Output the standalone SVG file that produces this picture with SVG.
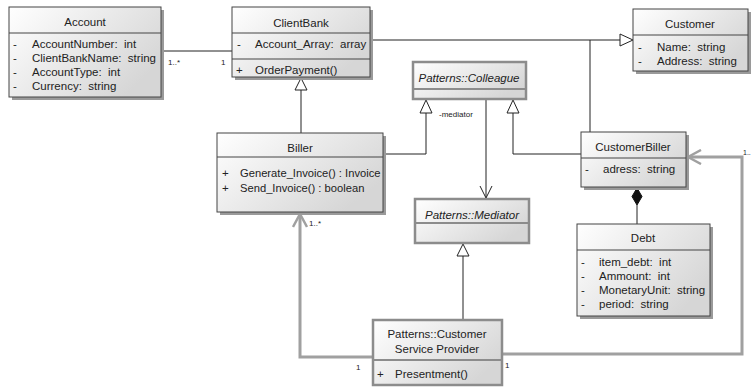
<svg xmlns="http://www.w3.org/2000/svg" width="751" height="387" viewBox="0 0 751 387">
  <defs>
    <linearGradient id="boxFill" x1="0" y1="0" x2="1" y2="0.6">
      <stop offset="0" stop-color="#ffffff"/>
      <stop offset="1" stop-color="#d6d6d6"/>
    </linearGradient>
    <marker id="openArrow" viewBox="0 0 14 14" refX="13" refY="7" markerWidth="14" markerHeight="14" markerUnits="userSpaceOnUse" orient="auto">
      <path d="M1,1 L13,7 L1,13" fill="none" stroke="#222" stroke-width="1"/>
    </marker>
    <marker id="greyArrow" viewBox="0 0 16 16" refX="14" refY="8" markerWidth="16" markerHeight="16" markerUnits="userSpaceOnUse" orient="auto">
      <path d="M1,1 L14,8 L1,15" fill="none" stroke="#a0a0a0" stroke-width="2.5"/>
    </marker>
  </defs>
  <style>
    .box { fill: url(#boxFill); stroke: #444; stroke-width: 1; }
    .shadow { fill: #9a9a9a; }
    .pbox { fill: url(#boxFill); stroke: #8c8c8c; stroke-width: 2.5; }
    .sep { stroke: #444; stroke-width: 1; }
    .psep { stroke: #8c8c8c; stroke-width: 2; }
    text { font-family: "Liberation Sans", Arial, sans-serif; font-size: 11.5px; fill: #222; white-space: pre; }
    .title { text-anchor: middle; }
    .ital { font-style: italic; text-anchor: middle; }
    .lbl { font-size: 8px; }
    .line { fill: none; stroke: #222; stroke-width: 1; }
    .grey { fill: none; stroke: #a0a0a0; stroke-width: 3; }
    .tri { fill: #fff; stroke: #222; stroke-width: 1; }
  </style>

  <!-- connectors -->
  <g id="connectors">
    <!-- Account – ClientBank association -->
    <line class="line" x1="161" y1="51" x2="232" y2="51"/>
    <text class="lbl" x="168" y="65">1..*</text>
    <text class="lbl" x="221" y="65">1</text>
    <!-- ClientBank / CustomerBiller generalize Customer -->
    <polyline class="line" points="370,40 621,40"/>
    <line class="line" x1="590" y1="40" x2="590" y2="132"/>
    <polygon class="tri" points="633,40 620,34 620,46"/>
    <!-- Biller generalizes ClientBank -->
    <line class="line" x1="301" y1="133" x2="301" y2="90"/>
    <polygon class="tri" points="301,78 295,90 307,90"/>
    <!-- Biller / CustomerBiller generalize Colleague -->
    <polyline class="line" points="383,154 426,154 426,113"/>
    <polygon class="tri" points="426,100 420,113 432,113"/>
    <polyline class="line" points="581,154 513,154 513,113"/>
    <polygon class="tri" points="513,100 507,113 519,113"/>
    <!-- Colleague -> Mediator navigable association -->
    <line class="line" x1="486" y1="100" x2="486" y2="198" marker-end="url(#openArrow)"/>
    <text class="lbl" x="439" y="117">-mediator</text>
    <!-- CSP realizes Mediator -->
    <line class="line" x1="463" y1="256" x2="463" y2="320"/>
    <polygon class="tri" points="463,244 457,256 469,256"/>
    <!-- CustomerBiller ◆ Debt composition -->
    <line class="line" x1="637" y1="205" x2="637" y2="224"/>
    <polygon points="637,188 632,196.5 637,205 642,196.5" fill="#111" stroke="#111" stroke-width="1"/>
    <!-- CSP -> Biller -->
    <polyline class="grey" points="373,357 300,357 300,214" marker-end="url(#greyArrow)"/>
    <text class="lbl" x="309" y="226">1..*</text>
    <text class="lbl" x="356" y="370">1</text>
    <!-- CSP -> CustomerBiller -->
    <polyline class="grey" points="502,354 742,354 742,157 688,157" marker-end="url(#greyArrow)"/>
    <text class="lbl" x="505" y="368">1</text>
    <text class="lbl" x="743" y="155" style="font-size:7px">1..</text>
  </g>

  <!-- Account -->
  <g id="account">
    <rect class="shadow" x="12" y="10" width="152" height="90"/>
    <rect class="box" x="9" y="7" width="152" height="90"/>
    <line class="sep" x1="9" y1="33" x2="161" y2="33"/>
    <text class="title" x="85" y="26">Account</text>
    <text x="13" y="48">-</text><text x="32" y="48">AccountNumber:  int</text>
    <text x="13" y="62">-</text><text x="32" y="62">ClientBankName:  string</text>
    <text x="13" y="76">-</text><text x="32" y="76">AccountType:  int</text>
    <text x="13" y="90">-</text><text x="32" y="90">Currency:  string</text>
  </g>

  <!-- ClientBank -->
  <g id="clientbank">
    <rect class="shadow" x="235" y="10" width="138" height="70"/>
    <rect class="box" x="232" y="7" width="138" height="70"/>
    <line class="sep" x1="232" y1="33" x2="370" y2="33"/>
    <line class="sep" x1="232" y1="59" x2="370" y2="59"/>
    <text class="title" x="301" y="27">ClientBank</text>
    <text x="237" y="48">-</text><text x="255" y="48">Account_Array:  array</text>
    <text x="236" y="74">+</text><text x="255" y="74">OrderPayment()</text>
  </g>

  <!-- Customer -->
  <g id="customer">
    <rect class="shadow" x="636" y="12" width="115" height="62"/>
    <rect class="box" x="633" y="9" width="115" height="62"/>
    <line class="sep" x1="633" y1="35" x2="748" y2="35"/>
    <text class="title" x="690" y="28">Customer</text>
    <text x="638" y="51">-</text><text x="657" y="51">Name:  string</text>
    <text x="638" y="65">-</text><text x="657" y="65">Address:  string</text>
  </g>

  <!-- Patterns::Colleague -->
  <g id="colleague">
    <rect class="pbox" x="413" y="62" width="113" height="37"/>
    <line class="psep" x1="413" y1="89" x2="526" y2="89"/>
    <text class="ital" x="469" y="82">Patterns::Colleague</text>
  </g>

  <!-- Biller -->
  <g id="biller">
    <rect class="shadow" x="220" y="136" width="166" height="79"/>
    <rect class="box" x="217" y="133" width="166" height="79"/>
    <line class="sep" x1="217" y1="157" x2="383" y2="157"/>
    <text class="title" x="300" y="152">Biller</text>
    <text x="222" y="177">+</text><text x="240" y="177" style="font-size:11.2px">Generate_Invoice() : Invoice</text>
    <text x="222" y="192">+</text><text x="240" y="192" style="font-size:11.2px">Send_Invoice() : boolean</text>
  </g>

  <!-- CustomerBiller -->
  <g id="customerbiller">
    <rect class="shadow" x="584" y="135" width="105" height="55"/>
    <rect class="box" x="581" y="132" width="105" height="55"/>
    <line class="sep" x1="581" y1="158" x2="686" y2="158"/>
    <text class="title" x="633" y="151">CustomerBiller</text>
    <text x="585" y="173">-</text><text x="603" y="173">adress:  string</text>
  </g>

  <!-- Patterns::Mediator -->
  <g id="mediator">
    <rect class="pbox" x="415" y="199" width="114" height="44"/>
    <line class="psep" x1="415" y1="223" x2="529" y2="223"/>
    <text class="ital" x="472" y="219">Patterns::Mediator</text>
  </g>

  <!-- Debt -->
  <g id="debt">
    <rect class="shadow" x="580" y="227" width="133" height="92"/>
    <rect class="box" x="577" y="224" width="133" height="92"/>
    <line class="sep" x1="577" y1="250" x2="710" y2="250"/>
    <text class="title" x="643" y="242">Debt</text>
    <text x="581" y="266">-</text><text x="599" y="266">item_debt:  int</text>
    <text x="581" y="280">-</text><text x="599" y="280">Ammount:  int</text>
    <text x="581" y="294">-</text><text x="599" y="294">MonetaryUnit:  string</text>
    <text x="581" y="308">-</text><text x="599" y="308">period:  string</text>
  </g>

  <!-- Patterns::Customer Service Provider -->
  <g id="customer-service-provider">
    <rect class="pbox" x="373" y="320" width="129" height="65"/>
    <line class="psep" x1="373" y1="360" x2="502" y2="360"/>
    <text class="title" x="437" y="338">Patterns::Customer</text>
    <text class="title" x="437" y="353">Service Provider</text>
    <text x="377" y="378">+</text><text x="395" y="378">Presentment()</text>
  </g>
</svg>
